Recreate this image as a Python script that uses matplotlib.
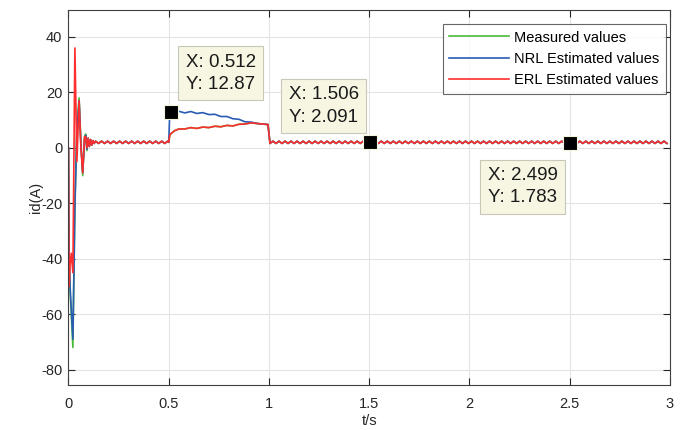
import numpy as np
import matplotlib.pyplot as plt
from matplotlib.ticker import FuncFormatter

plt.rcParams['font.family'] = ['Liberation Sans', 'DejaVu Sans']
plt.rcParams['axes.unicode_minus'] = False

# start-up transient
t_start = [0, 0.003, 0.008, 0.014, 0.022, 0.032, 0.042, 0.053, 0.062, 0.071,
           0.080, 0.086, 0.092, 0.098, 0.104, 0.110, 0.116, 0.122, 0.128]
meas_start = [0, -40, -52, -60, -72, -20, 8, 18, 2, -10,
              4, 5, -1, 3.5, 0.5, 3, 1, 2.6, 1.6]
nrl_start = [0, -38, -50, -58, -69, -22, 6, 17, 1, -9,
             3, 4.5, -0.5, 3.5, 0.5, 3, 1, 2.6, 1.6]
erl_start = [0, -50, -42, -38, -45, 36, -5, 17, 0, -9,
             4, 4, 0, 3.5, 0.5, 3, 1, 2.6, 1.6]

# steady ripple before the load step (0.13 .. 0.5 s)
t_pre = list(np.round(np.arange(0.135, 0.50, 0.015), 3))
val_pre = [2.4, 1.6] * 12 + [2.4]

# load step 0.5 .. 1.0 s
t_load = [0.5, 0.505, 0.512, 0.53, 0.55, 0.58, 0.61, 0.64, 0.67, 0.70, 0.73, 0.76,
          0.79, 0.82, 0.85, 0.88, 0.91, 0.94, 0.97, 0.995]
nrl_load = [2.0, 12.5, 12.87, 12.5, 13.2, 12.6, 13.1, 12.4, 12.7, 12.0, 12.1, 11.3,
            11.3, 10.5, 10.3, 9.4, 9.3, 8.8, 8.6, 8.4]
erl_load = [2.0, 4.5, 5.2, 6.2, 6.8, 6.8, 7.3, 7.0, 7.5, 7.3, 7.8, 7.6,
            8.1, 7.9, 8.5, 8.6, 9.0, 8.8, 8.6, 8.4]
meas_load = [2.0, 4.5, 5.2, 6.2, 6.8, 6.8, 7.3, 7.0, 7.5, 7.3, 7.8, 7.6,
             8.1, 7.9, 8.5, 8.6, 9.0, 8.8, 8.6, 8.4]

# steady ripple after the step (1.0 .. 3.0 s)
t_post = list(np.round(np.arange(1.005, 3.0, 0.015), 3))
val_post = [1.6, 2.4] * 67

t_all = np.array(t_start + t_pre + t_load + t_post)
measured = np.array(meas_start + val_pre + meas_load + val_post[:len(t_post)])
nrl = np.array(nrl_start + val_pre + nrl_load + val_post[:len(t_post)])
erl = np.array(erl_start + val_pre + erl_load + val_post[:len(t_post)])

# data tips
tip_x = [0.512, 1.506, 2.499]
tip_y = [12.87, 2.091, 1.783]
tip_text = ["X: 0.512\nY: 12.87", "X: 1.506\nY: 2.091", "X: 2.499\nY: 1.783"]
tip_offset = [(10.6, 13.9), (-8.45, 11.85), (-8.5, -17.5)]
tip_align = [('left', 'bottom'), ('right', 'bottom'), ('right', 'top')]

fig = plt.figure(figsize=(6.8, 4.3), dpi=100)
ax = fig.add_axes([0.1007, 0.1047, 0.8846, 0.872])

ax.plot(t_all, measured, color='#4cbb3c', lw=1.2, label='Measured values')
ax.plot(t_all, nrl, color='#2a5cb4', lw=1.2, label='NRL Estimated values')
ax.plot(t_all, erl, color='#ff2e2e', lw=1.2, label='ERL Estimated values')

ax.set_xlim(0, 3)
ax.set_ylim(-85.5, 49.7)
ax.set_xticks(np.arange(0, 3.01, 0.5))
ax.set_yticks(np.arange(-80, 41, 20))
ax.xaxis.set_major_formatter(FuncFormatter(lambda v, p: f"{v:g}"))
ax.tick_params(direction='in', top=True, right=True, labelsize=10.5,
               colors='#262626', length=5, width=0.8)
ax.tick_params(axis='x', pad=9)
ax.tick_params(axis='y', pad=4.5)
ax.grid(True, color='#e3e3e3', lw=0.8)
ax.set_axisbelow(True)
for s in ax.spines.values():
    s.set_color('#404040')
    s.set_linewidth(0.8)

ax.set_xlabel('t/s', fontsize=10.5, color='#262626', labelpad=2)
ax.set_ylabel('id(A)', fontsize=10.5, color='#262626', labelpad=-1.5)

for x, y, txt, off, (ha, va) in zip(tip_x, tip_y, tip_text, tip_offset, tip_align):
    ax.annotate(txt, xy=(x, y), xytext=off, textcoords='offset points',
                ha=ha, va=va, multialignment='left', fontsize=13.5, color='#1a1a1a',
                linespacing=1.4, zorder=6,
                bbox=dict(boxstyle='square,pad=0.4', fc='#f6f6e3', ec='#c8c8b8', lw=0.8))
ax.plot(tip_x, tip_y, 's', color='black', ms=10, mec='#f4f4dc', mew=0.8, zorder=7)

leg = ax.legend(loc='upper right', bbox_to_anchor=(0.9934, 0.9627), fontsize=10.5,
                frameon=True, fancybox=False, edgecolor='#404040', handlelength=4.1,
                borderpad=0.45, labelspacing=0.5, handletextpad=0.35, borderaxespad=0)
leg.get_frame().set_linewidth(0.8)

fig.savefig('out.png', dpi=100)
